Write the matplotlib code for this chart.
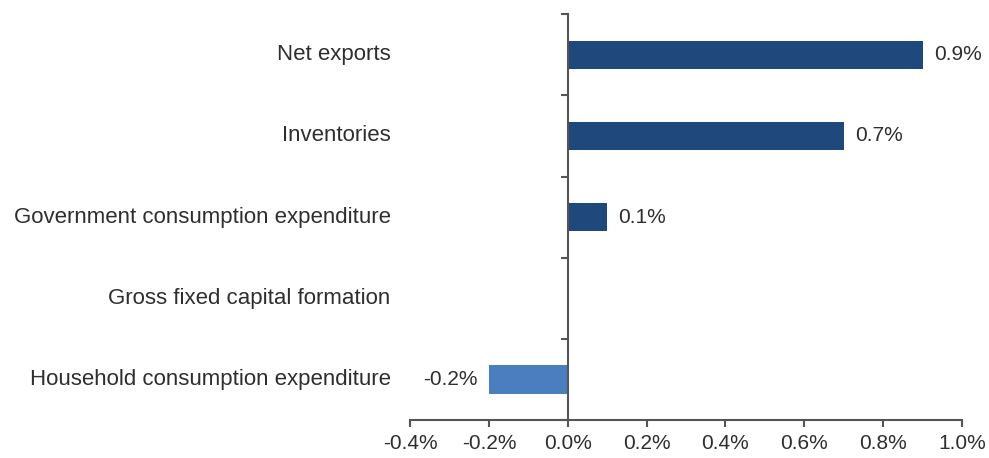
import matplotlib.pyplot as plt
import numpy as np

plt.rcParams['font.family'] = ['Liberation Sans', 'DejaVu Sans']

categories = ["Net exports", "Inventories", "Government consumption expenditure",
              "Gross fixed capital formation", "Household consumption expenditure"]
values = [0.9, 0.7, 0.1, 0.0, -0.2]
labels = ["0.9%", "0.7%", "0.1%", "", "-0.2%"]
colors = ["#1F497D", "#1F497D", "#1F497D", "#1F497D", "#4A7EBF"]
xticks = [-0.4, -0.2, 0.0, 0.2, 0.4, 0.6, 0.8, 1.0]

text_col = "#2e2e2e"
axis_col = "#555555"

fig = plt.figure(figsize=(9.89, 4.58), dpi=100)
ax = fig.add_axes([0.4146, 0.083, 0.5581, 0.886])

y = np.arange(len(categories))[::-1]
ax.barh(y, values, height=0.35, color=colors)

for yi, v, lab in zip(y, values, labels):
    if not lab:
        continue
    if v >= 0:
        ax.annotate(lab, (v, yi), xytext=(8, 0), textcoords="offset points",
                    ha="left", va="center", fontsize=15, color=text_col)
    else:
        ax.annotate(lab, (v, yi), xytext=(-8, 0), textcoords="offset points",
                    ha="right", va="center", fontsize=15, color=text_col)

# category labels at the left edge of the axes
for yi, cat in zip(y, categories):
    ax.text(-0.035, yi, cat, transform=ax.get_yaxis_transform(),
            ha="right", va="center", fontsize=16, color=text_col)

ax.set_xlim(-0.4, 1.0)
ax.set_ylim(-0.5, 4.5)
ax.set_xticks(xticks)
ax.set_xticklabels([f"{t:.1f}%" for t in xticks])
ax.set_yticks(np.arange(-0.5, 5.0, 1.0))
ax.set_yticklabels([])

ax.spines["top"].set_visible(False)
ax.spines["right"].set_visible(False)
ax.spines["left"].set_position(("data", 0))
for s in ("left", "bottom"):
    ax.spines[s].set_color(axis_col)
    ax.spines[s].set_linewidth(1.5)
ax.tick_params(axis="x", direction="out", length=5, width=1.5, color=axis_col,
               labelsize=15, labelcolor=text_col, pad=5)
ax.tick_params(axis="y", direction="out", length=5, width=1.5, color=axis_col)

fig.savefig("out.png", dpi=100)
